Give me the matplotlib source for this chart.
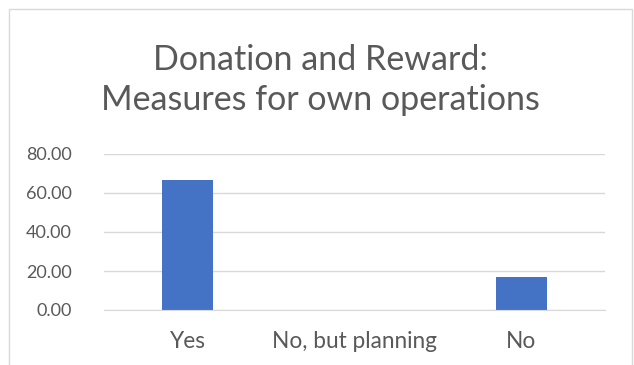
import matplotlib
matplotlib.use("Agg")
import matplotlib.pyplot as plt
from matplotlib.patches import Rectangle

# データ
categories = ["Yes", "No, but planning", "No"]
values = [66.67, 0.0, 16.67]
yticks = [0, 20, 40, 60, 80]
title = "Donation and Reward:\nMeasures for own operations"

plt.rcParams['font.family'] = ['Lato', 'DejaVu Sans']
text_col = '#595959'
grid_col = '#D9D9D9'

fig = plt.figure(figsize=(6.34, 3.65), dpi=100)
W, H = 634, 365

# 外枠
fig.patches.append(Rectangle((9 / W, -0.1), (632 - 9) / W, 1.1 - 9 / H,
                             transform=fig.transFigure, fill=False,
                             edgecolor=grid_col, linewidth=1.0))

# プロット領域 (x 104-605, y 154-310 px)
ax = fig.add_axes([104 / W, 1 - 310 / H, (605 - 104) / W, (310 - 154) / H])
x = list(range(len(categories)))
ax.bar(x, values, width=0.31, color='#4472C4', zorder=3)

ax.set_xlim(-0.5, 2.5)
ax.set_ylim(0, 80)
ax.set_yticks(yticks)
ax.set_yticklabels(["{:.2f}".format(v) for v in yticks])
ax.set_xticks(x)
ax.set_xticklabels(categories)
ax.tick_params(axis='both', length=0, colors=text_col)
ax.tick_params(axis='y', pad=23, labelsize=13)
ax.tick_params(axis='x', pad=15, labelsize=16.3)
ax.grid(axis='y', color=grid_col, linewidth=1.0, zorder=0)
for s in ['top', 'right', 'left']:
    ax.spines[s].set_visible(False)
ax.spines['bottom'].set_color(grid_col)
ax.spines['bottom'].set_zorder(4)

# タイトル
fig.text(0.5 * (9 + 632) / W, 1 - 80 / H, title, ha='center', va='center',
         fontsize=24.5, color=text_col, linespacing=1.3)

fig.savefig("out.png", dpi=100)
